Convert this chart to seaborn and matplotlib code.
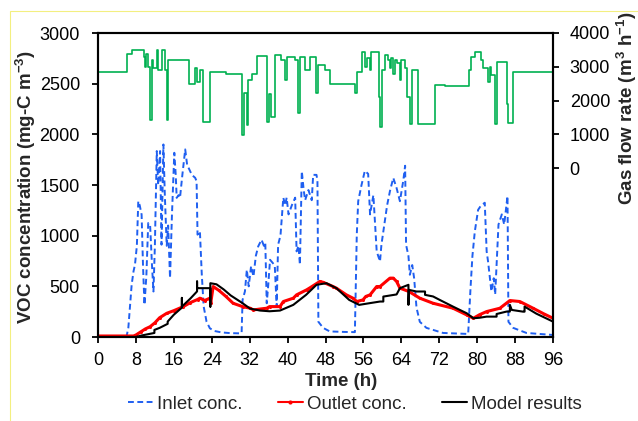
import matplotlib
matplotlib.use("Agg")
import matplotlib.pyplot as plt
import seaborn as sns
import pandas as pd
from matplotlib.lines import Line2D
from matplotlib.patches import Rectangle

# ---- gas flow rate (m3/h), step series ----
flow_t = [0, 6.2, 7.1, 9.6, 9.9, 10.2, 10.6, 11.0, 11.3, 11.7, 12.4, 12.7, 13.4, 14.1,
          14.5, 14.8, 19.1, 20.5, 20.8, 21.5, 22.2, 23.6, 27.0, 30.3, 30.7, 31.4, 31.7,
          32.4, 33.5, 35.6, 36.0, 36.6, 37.3, 38.7, 39.4, 39.8, 41.6, 42.3, 42.6, 43.7,
          44.7, 46.1, 46.5, 47.9, 49.0, 49.3, 54.2, 54.6, 55.6, 56.3, 56.7, 57.4, 57.7,
          59.2, 59.5, 59.9, 60.5, 61.2, 61.6, 61.9, 62.3, 62.7, 63.0, 63.7, 64.0, 64.8,
          65.1, 65.8, 66.2, 67.6, 71.2, 73.3, 78.3, 78.8, 79.5, 80.9, 81.3, 82.3, 82.7,
          83.0, 83.7, 84.1, 86.2, 86.6, 87.6, 96.0]
flow_v = [2850, 3390, 3490, 3300, 3000, 3390, 3000, 1420, 3200, 2950, 3490, 2900, 3490, 2900,
          1420, 3200, 2500, 2950, 2560, 2900, 1370, 2850, 2800, 980, 2210, 1270, 2600,
          2800, 3320, 1370, 2200, 1500, 3345, 3200, 2600, 3300, 3200, 1620, 3300, 2900,
          3300, 2210, 3050, 2900, 2500, 2480, 2210, 2850, 3450, 3000, 3250, 2900, 3450,
          2110, 1210, 2900, 3345, 3200, 2950, 3250, 2800, 3200, 3100, 2600, 3200, 2950,
          2100, 1320, 2900, 1320, 2470, 2440, 2900, 3300, 3450, 3200, 2950, 2560, 3000,
          2750, 1300, 3150, 1900, 1350, 2850, 2900]

# ---- inlet VOC concentration (mg-C/m3) ----
inlet_t = [0, 6.0, 6.4, 7.1, 7.5, 7.8, 8.2, 8.5, 8.8, 9.2, 9.5, 9.8, 10.2, 10.6, 11.0, 11.4,
           11.7, 12.0, 12.4, 12.7, 13.1, 13.4, 13.8, 14.1, 14.5, 14.8, 15.2, 15.6, 16.1,
           16.4, 16.6, 17.0, 17.3, 17.8, 18.4, 18.8, 19.1, 19.8, 20.5, 20.8, 21.0, 21.5,
           21.9, 22.3, 22.9, 23.6, 24.5, 26.1, 28.0, 30.0, 30.3, 30.5, 31.0, 31.4, 31.8,
           32.3, 32.8, 33.3, 33.8, 34.5, 35.0, 35.3, 35.6, 35.9, 36.3, 36.9, 37.3, 37.7,
           38.0, 38.5, 39.1, 39.5, 39.8, 40.2, 40.9, 41.6, 41.9, 42.3, 42.6, 43.0, 43.4,
           43.7, 44.4, 45.1, 45.4, 46.1, 46.3, 46.5, 47.5, 48.9, 52.0, 54.2, 54.6, 54.9,
           55.6, 56.3, 57.0, 57.4, 58.1, 58.8, 59.5, 59.8, 60.5, 61.0, 61.6, 62.3, 63.0,
           63.7, 64.4, 64.8, 65.0, 65.5, 65.8, 66.3, 66.7, 67.2, 67.9, 69.3, 72.8, 78.1,
           78.6, 79.0, 79.5, 80.2, 80.7, 81.6, 82.0, 82.3, 83.0, 83.5, 83.8, 84.5, 85.2,
           85.7, 86.4, 86.6, 87.6, 90.4, 96.0]
inlet_v = [0, 0, 90, 515, 650, 713, 900, 1340, 1300, 1208, 700, 317, 600, 1125, 1100, 700,
           449, 900, 1835, 1500, 1835, 911, 1900, 1400, 900, 1100, 581, 1200, 1818,
           1600, 1373, 1400, 1373, 1600, 1851, 1700, 1670, 1600, 1571, 1538, 1010, 1043,
           614, 300, 152, 86, 60, 45, 38, 36, 40, 366, 450, 663, 500,
           700, 597, 800, 894, 960, 900, 927, 333, 500, 762, 729, 700, 300,
           911, 1000, 1375, 1300, 1375, 1210, 1300, 1375, 845, 900, 713, 1637, 1450,
           1350, 1450, 1350, 1600, 1600, 1540, 150, 90, 55, 50, 48, 1010, 1340,
           1500, 1640, 1610, 1210, 1400, 845, 745, 911, 1140, 1300, 1440, 1570, 1470,
           1340, 1540, 1690, 910, 800, 614, 710, 580, 290, 150, 90, 40, 30,
           485, 800, 1040, 1255, 1290, 1325, 845, 745, 450, 580, 420, 1110, 1210,
           1110, 1390, 150, 90, 40, 20]

# ---- outlet VOC concentration (mg-C/m3) ----
outlet_t = [0, 7.5, 8.0, 9.0, 10.0, 11.0, 12.0, 13.0, 14.5, 16.0, 18.0, 19.5, 21.0, 21.5,
            22.5, 23.6, 23.8, 24.3, 25.5, 27.0, 28.5, 30.5, 32.1, 32.8, 34.0, 35.6, 36.2,
            38.4, 39.1, 41.2, 41.9, 44.0, 44.6, 46.8, 47.5, 49.6, 50.3, 52.4, 53.8, 54.6,
            55.9, 56.5, 57.4, 58.8, 59.5, 61.6, 62.3, 63.0, 63.7, 65.6, 67.9, 70.7, 74.9,
            77.8, 79.2, 80.5, 82.0, 84.8, 86.9, 89.0, 91.8, 94.0, 96.0]
outlet_v = [10, 10, 20, 50, 80, 102, 140, 190, 234, 260, 300, 340, 370, 383,
            360, 383, 340, 498, 460, 400, 333, 300, 284, 267, 275, 284, 300,
            300, 350, 383, 416, 465, 482, 548, 540, 498, 482, 416, 383, 350,
            366, 400, 416, 498, 498, 581, 581, 548, 482, 449, 383, 333, 284,
            218, 185, 220, 251, 284, 360, 350, 284, 230, 185]

# ---- model results (mg-C/m3) ----
model_t = [0, 8.0, 9.2, 11.9, 11.9, 13.0, 14.7, 14.7, 16.0, 17.7, 17.7, 17.7, 19.5, 20.9,
           20.9, 20.9, 23.7, 23.7, 23.7, 25.0, 26.5, 28.0, 30.3, 32.1, 34.2, 36.2, 38.4,
           41.2, 43.9, 46.1, 48.2, 50.3, 53.0, 55.1, 57.2, 59.5, 60.2, 60.2, 63.0, 63.7,
           65.5, 65.5, 65.6, 67.2, 69.0, 69.0, 70.7, 72.1, 74.9, 77.8, 79.2, 80.5, 82.0,
           84.1, 84.1, 86.2, 86.9, 86.9, 87.3, 89.7, 90.0, 90.0, 92.5, 96.0]
model_v = [0, 0, 15, 40, 70, 90, 130, 152, 220, 290, 386, 300, 380, 450,
           548, 482, 482, 300, 531, 520, 470, 410, 340, 280, 261, 254, 261,
           317, 416, 515, 531, 482, 366, 317, 333, 350, 350, 399, 420, 482,
           515, 317, 465, 449, 449, 416, 400, 366, 300, 234, 185, 190, 201,
           201, 227, 251, 251, 317, 267, 250, 250, 300, 230, 152]

x_ticks = list(range(0, 97, 8))
left_ticks = list(range(0, 3001, 500))
right_ticks = [0, 1000, 2000, 3000, 4000]

sns.set_style("ticks")
plt.rcParams["font.family"] = ["Liberation Sans", "DejaVu Sans"]
plt.rcParams["mathtext.fontset"] = "custom"
plt.rcParams["mathtext.rm"] = "Liberation Sans"
plt.rcParams["mathtext.bf"] = "Liberation Sans:bold"

BLUE = "#1f5ff0"
RED = "#ff0000"
GREEN = "#00b050"

W, H = 638, 421
fig = plt.figure(figsize=(W / 100, H / 100), dpi=100)
ax = fig.add_axes([98 / W, 1 - 337 / H, 455 / W, 304 / H])
ax2 = ax.twinx()

flow = pd.DataFrame({"t": flow_t, "v": flow_v})
inlet = pd.DataFrame({"t": inlet_t, "v": inlet_v})
outlet = pd.DataFrame({"t": outlet_t, "v": outlet_v})
model = pd.DataFrame({"t": model_t, "v": model_v})

sns.lineplot(data=inlet, x="t", y="v", ax=ax, estimator=None, sort=False,
             color=BLUE, lw=1.4, linestyle=(0, (3, 1.8)))
sns.lineplot(data=outlet, x="t", y="v", ax=ax, estimator=None, sort=False,
             color=RED, lw=2.2, marker="o", markersize=2.2, markeredgewidth=0)
sns.lineplot(data=model, x="t", y="v", ax=ax, estimator=None, sort=False,
             color="black", lw=1.5)
sns.lineplot(data=flow, x="t", y="v", ax=ax2, estimator=None, sort=False,
             color=GREEN, lw=1.2, drawstyle="steps-post")

ax.set_xlim(0, 96)
ax.set_ylim(0, 3000)
ax2.set_ylim(-5000, 4000)
ax.set_xticks(x_ticks)
ax.set_yticks(left_ticks)
ax2.set_yticks(right_ticks)
ax.set_xlabel("")
ax.set_ylabel("")
ax2.set_ylabel("")

for a in (ax, ax2):
    for s in a.spines.values():
        s.set_linewidth(1.5)
        s.set_color("black")
ax.tick_params(axis="x", direction="out", length=4, width=1.3, labelsize=13, pad=7, colors="black")
ax.tick_params(axis="y", direction="out", length=4, width=1.3, labelsize=13, pad=9, colors="black")
ax2.tick_params(axis="y", direction="out", length=4, width=1.3, labelsize=13, pad=8, colors="black")

fig.text(26 / W, 1 - 187 / H, r"VOC concentration (mg-C m$^{\mathbf{-3}}$)",
         rotation=90, ha="center", va="center", fontsize=13.5, fontweight="bold")
fig.text(627 / W, 1 - 108 / H, r"Gas flow rate (m$^{\mathbf{3}}$ h$^{\mathbf{-1}}$)",
         rotation=90, ha="center", va="center", fontsize=13.5, fontweight="bold")
fig.text(341 / W, 1 - 381 / H, "Time (h)", ha="center", va="center",
         fontsize=13.5, fontweight="bold")

handles = [
    Line2D([], [], color=BLUE, lw=1.4, linestyle=(0, (3, 1.8))),
    Line2D([], [], color=RED, lw=1.5, marker="o", markersize=3, markeredgewidth=0),
    Line2D([], [], color="black", lw=1.5),
]
fig.legend(handles, ["Inlet conc.", "Outlet conc.", "Model results"],
           loc="center", bbox_to_anchor=(0.556, 0.04), ncol=3, frameon=False,
           fontsize=13.5, handlelength=1.35, handletextpad=0.2, columnspacing=1.9)

fig.patches.append(Rectangle((10 / W, -0.05), 1.0, 1.05 - 11 / H, fill=False,
                             edgecolor="#f3ef80", lw=0.8, transform=fig.transFigure,
                             figure=fig))

fig.savefig("out.png", dpi=100)
